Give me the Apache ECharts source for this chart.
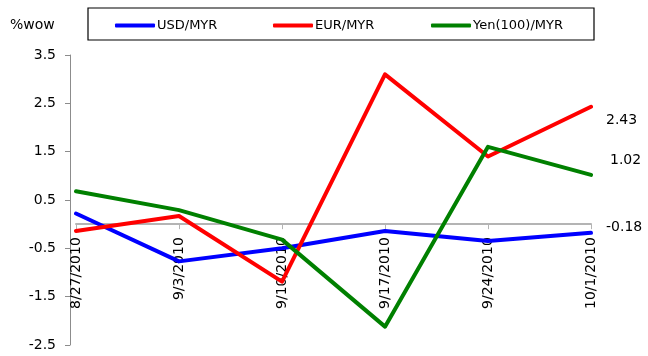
<!DOCTYPE html>
<html>
<head>
<meta charset="utf-8">
<script src="https://cdn.jsdelivr.net/npm/echarts@6/dist/echarts.min.js"></script>
<style>
  html, body { margin: 0; padding: 0; background: #fff; }
  #chart { width: 648px; height: 356px; }
</style>
</head>
<body>
<div id="chart"></div>
<script>
// Weekly % change of ringgit crosses
var weeks = ['8/27/2010', '9/3/2010', '9/10/2010', '9/17/2010', '9/24/2010', '10/1/2010'];
var usdMyr = [0.22, -0.77, -0.50, -0.14, -0.35, -0.18];
var eurMyr = [-0.14, 0.17, -1.19, 3.10, 1.40, 2.43];
var yenMyr = [0.68, 0.29, -0.32, -2.12, 1.60, 1.02];
var yTicks = [-2.5, -1.5, -0.5, 0.5, 1.5, 2.5, 3.5];

var FONT = 'DejaVu Sans';
var Y_MIN = -2.5, Y_MAX = 3.5;
var GRID = { left: 76, right: 57, top: 55, bottom: 11 };
var chartHeight = 356;
// Lift the category axis (line, ticks and labels) up to the zero level
var plotHeight = chartHeight - GRID.top - GRID.bottom;
var zeroLift = -(0 - Y_MIN) / (Y_MAX - Y_MIN) * plotHeight;

var chart = echarts.init(document.getElementById('chart'), null, { renderer: 'canvas' });

function lineSeries(name, data, color, labelOffset) {
  return {
    name: name,
    type: 'line',
    data: data,
    symbol: 'none',
    smooth: false,
    lineStyle: { color: color, width: 4, cap: 'round', join: 'round' },
    itemStyle: { color: color },
    endLabel: {
      show: true,
      formatter: function (p) { return Number(p.value).toFixed(2); },
      fontFamily: FONT,
      fontSize: 14,
      color: '#000',
      offset: labelOffset
    },
    z: 3
  };
}

function legendAt(name, left) {
  return {
    data: [name],
    left: left,
    top: 19,
    padding: 0,
    icon: 'roundRect',
    itemWidth: 40,
    itemHeight: 4,
    itemGap: 0,
    textStyle: { fontFamily: FONT, fontSize: 13, color: '#000', padding: [0, 0, 0, -3] },
    selectedMode: false
  };
}

chart.setOption({
  animation: false,
  backgroundColor: '#fff',
  grid: {
    left: GRID.left, right: GRID.right, top: GRID.top, bottom: GRID.bottom,
    containLabel: false, outerBoundsMode: 'none'
  },
  legend: [
    legendAt('USD/MYR', 115),
    legendAt('EUR/MYR', 273),
    legendAt('Yen(100)/MYR', 431)
  ],
  graphic: [
    {
      type: 'rect',
      shape: { x: 88, y: 8, width: 506, height: 32 },
      style: { fill: 'none', stroke: '#000', lineWidth: 1.2 },
      silent: true
    },
    {
      type: 'text',
      left: 10,
      top: 18,
      style: { text: '%wow', fontFamily: FONT, fontSize: 14, fill: '#000' },
      silent: true
    }
  ],
  xAxis: {
    type: 'category',
    data: weeks,
    boundaryGap: false,
    position: 'bottom',
    offset: zeroLift,
    axisLine: { onZero: false, lineStyle: { color: '#b4b4b4', width: 2 } },
    axisTick: { show: true, alignWithLabel: true, length: 5, lineStyle: { color: '#b4b4b4', width: 1 } },
    axisLabel: {
      rotate: 90,
      interval: 0,
      margin: 13,
      fontFamily: FONT,
      fontSize: 14,
      color: '#000'
    },
    splitLine: { show: false }
  },
  yAxis: {
    type: 'value',
    min: Y_MIN,
    max: Y_MAX,
    offset: 6,
    axisLine: { show: true, lineStyle: { color: '#8c8c8c', width: 1 } },
    axisTick: { show: true, length: 5, customValues: yTicks, lineStyle: { color: '#8c8c8c' } },
    axisLabel: {
      customValues: yTicks,
      margin: 14,
      fontFamily: FONT,
      fontSize: 14,
      color: '#000',
      formatter: function (v) { return String(v); }
    },
    splitLine: { show: false }
  },
  series: [
    lineSeries('USD/MYR', usdMyr, '#0000ff', [7, -6]),
    lineSeries('EUR/MYR', eurMyr, '#ff0000', [7, 14]),
    lineSeries('Yen(100)/MYR', yenMyr, '#008000', [11, -15])
  ]
});
</script>
</body>
</html>
